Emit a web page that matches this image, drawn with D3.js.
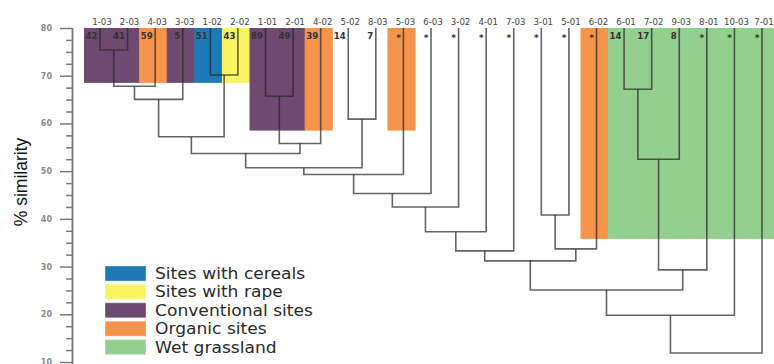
<!DOCTYPE html>
<html>
<head>
<meta charset="utf-8">
<script src="https://cdn.jsdelivr.net/npm/d3@7/dist/d3.min.js"></script>
<style>
  html, body { margin: 0; padding: 0; background: #fff; }
  svg { display: block; }
</style>
</head>
<body>
<svg id="chart" width="774" height="364"></svg>
<script>
// ---------- data ----------
const leaves = ["1-03","2-03","4-03","3-03","1-02","2-02","1-01","2-01","4-02","5-02","8-03","5-03","6-03","3-02","4-01","7-03","3-01","5-01","6-02","6-01","7-02","9-03","8-01","10-03","7-01"];
const leafCounts = ["42","41","59","5","51","43","89","49","39","14","7","*","*","*","*","*","*","*","*","14","17","8","*","*","*"];
const leafGroups = ["conv","conv","org","conv","cer","rape","conv","conv","org","","","org","","","","","","","org","wet","wet","wet","wet","wet","wet"];
const bandFloor = [68.5,68.5,68.5,68.5,68.5,68.5,58.5,58.5,58.5,null,null,58.5,null,null,null,null,null,null,35.8,35.8,35.8,35.8,35.8,35.8,35.8];

// merges: [left child, right child, % similarity]
const merges = [
  ["1-03","2-03",75.4],
  ["c1","4-03",67.8],
  ["c2","3-03",65.05],
  ["1-02","2-02",70.15],
  ["c3","c4",57.2],
  ["1-01","2-01",65.7],
  ["c6","4-02",55.8],
  ["c5","c7",53.7],
  ["5-02","8-03",60.9],
  ["c8","c9",50.7],
  ["c10","5-03",49.3],
  ["c11","6-03",45.3],
  ["c12","3-02",42.5],
  ["c13","4-01",37.3],
  ["c14","7-03",33.3],
  ["3-01","5-01",40.8],
  ["c16","6-02",33.7],
  ["c15","c17",31.2],
  ["6-01","7-02",67.15],
  ["c19","9-03",52.5],
  ["c20","8-01",29.3],
  ["c18","c21",25.1],
  ["c22","10-03",19.8],
  ["c23","7-01",11.9]
];

const groupKeys = ["cer","rape","conv","org","wet"];
const groupNames = ["Sites with cereals","Sites with rape","Conventional sites","Organic sites","Wet grassland"];
const groupColors = ["#1d7ab6","#f9f562","#6e4a70","#f7944b","#93d08f"];

const yMajor = [10,20,30,40,50,60,70,80];
const yMinor = d3.range(10, 80.1, 2.5).filter(v => v % 10 !== 0);

// ---------- scales ----------
const svg = d3.select("#chart");
const y = d3.scaleLinear().domain([10, 80]).range([362, 28]);
const x = d3.scalePoint().domain(leaves).range([100, 762]);
const step = x.step();
const color = d3.scaleOrdinal().domain(groupKeys).range(groupColors);

// ---------- bands ----------
svg.append("g").selectAll("rect")
  .data(leaves.map((l, i) => ({l, g: leafGroups[i], f: bandFloor[i]})).filter(d => d.g))
  .join("rect")
  .attr("x", d => x(d.l) - 0.58 * step)
  .attr("width", step + 0.6)
  .attr("y", y(80))
  .attr("height", d => y(d.f) - y(80))
  .attr("fill", d => color(d.g));

// ---------- dendrogram ----------
const pos = {};
leaves.forEach(l => pos[l] = {x: x(l), h: 80});
const paths = [];
merges.forEach((m, i) => {
  const a = pos[m[0]], b = pos[m[1]], h = m[2];
  paths.push({a, b, h});
  pos["c" + (i + 1)] = {x: (a.x + b.x) / 2, h};
});
svg.append("g")
  .attr("fill", "none")
  .attr("stroke", "#282828")
  .attr("stroke-opacity", 0.72)
  .attr("stroke-width", 1.6)
  .selectAll("path")
  .data(paths)
  .join("path")
  .attr("d", d => `M${d.a.x},${y(d.a.h)}V${y(d.h)}H${d.b.x}V${y(d.b.h)}`);

// ---------- leaf labels ----------
svg.append("g").selectAll("text")
  .data(leaves)
  .join("text")
  .attr("x", d => x(d) + 2)
  .attr("y", 25)
  .attr("text-anchor", "middle")
  .attr("font-family", "DejaVu Sans")
  .attr("font-size", 8.6)
  .attr("fill", "#444")
  .text(d => d);

svg.append("g").selectAll("text")
  .data(leaves.map((l, i) => ({l, c: leafCounts[i]})))
  .join("text")
  .attr("x", d => x(d.l) - 2.5)
  .attr("y", d => d.c === "*" ? 41 : 39)
  .attr("text-anchor", "end")
  .attr("font-family", "DejaVu Sans")
  .attr("font-weight", "bold")
  .attr("font-size", d => d.c === "*" ? 9 : 8.6)
  .attr("fill", "#333")
  .text(d => d.c);

// ---------- axis ----------
const axMajor = svg.append("g").attr("transform", "translate(72,0)")
  .call(d3.axisLeft(y).tickValues(yMajor).tickSize(12).tickPadding(8).tickFormat(d3.format("d")));
const axMinor = svg.append("g").attr("transform", "translate(72,0)")
  .call(d3.axisLeft(y).tickValues(yMinor).tickSize(6).tickFormat(""));
[axMajor, axMinor].forEach(g => {
  g.selectAll("line").attr("stroke", "#7a7a7a").attr("stroke-width", 1.5);
  g.select(".domain").attr("stroke", "#7a7a7a").attr("stroke-width", 1.5)
    .attr("d", `M0.5,${y(80)}V364`);
});
axMajor.selectAll("text")
  .attr("font-family", "DejaVu Sans")
  .attr("font-weight", "bold")
  .attr("font-size", 8)
  .attr("fill", "#8a8a8a");

svg.append("text")
  .attr("transform", "translate(27,182) rotate(-90)")
  .attr("text-anchor", "middle")
  .attr("font-family", "Liberation Sans, Arial, sans-serif")
  .attr("font-size", 17.5)
  .attr("fill", "#111")
  .text("% similarity");

// ---------- legend ----------
const lg = svg.append("g").attr("transform", "translate(105,266)");
const items = lg.selectAll("g")
  .data(groupKeys.map((k, i) => ({k, name: groupNames[i]})))
  .join("g")
  .attr("transform", (d, i) => `translate(0,${i * 18.4})`);
items.append("rect")
  .attr("width", 41).attr("height", 15)
  .attr("fill", d => color(d.k))
  .attr("stroke", "#fff").attr("stroke-opacity", 0.35).attr("stroke-width", 1);
items.append("text")
  .attr("x", 50).attr("y", 13)
  .attr("font-family", "DejaVu Sans, sans-serif")
  .attr("font-size", 15)
  .attr("fill", "#2a2a2a")
  .text(d => d.name)
  .each(function () {
    const w = this.getComputedTextLength();
    d3.select(this).attr("textLength", w * 1.14).attr("lengthAdjust", "spacingAndGlyphs");
  });
</script>
</body>
</html>
